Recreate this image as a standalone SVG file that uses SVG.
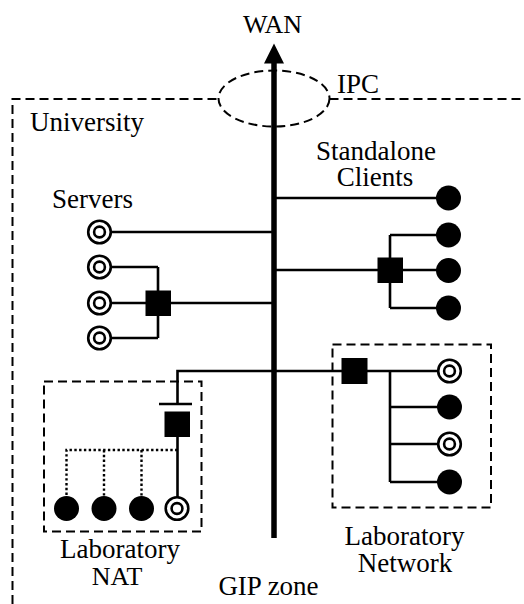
<svg xmlns="http://www.w3.org/2000/svg" width="524" height="604" viewBox="0 0 524 604">
<defs>
<style>
.dash{fill:none;stroke:#000;stroke-width:2;stroke-dasharray:9 5}
.ln{fill:none;stroke:#000;stroke-width:2.6}
.dot{fill:none;stroke:#000;stroke-width:2.4;stroke-dasharray:2.4 2.4}
.trunk{fill:none;stroke:#000;stroke-width:5.5}
.sw{fill:#000}
.cl{fill:#000}
.srvo{fill:#fff;stroke:#000;stroke-width:2.6}
.t{font-family:'Liberation Serif','Times New Roman',serif;font-size:26px;fill:#000;text-anchor:middle}
.w{font-size:27px}
</style>
<g id="server-tpl"><circle r="11.3" class="srvo"/><circle r="5.4" class="srvo"/></g>
</defs>
<rect width="524" height="604" fill="#fff"/>
<g id="university">
<path class="dash" d="M12.5,604 V99 H218.5 M329.5,99 H524"/>
<text class="t w" x="87" y="131">University</text>
</g>
<g id="ipc">
<ellipse cx="274" cy="98.5" rx="55.5" ry="28" style="fill:#fff;stroke:#000;stroke-width:2;stroke-dasharray:9 5"/>
<text class="t w" x="358" y="93.3">IPC</text>
</g>
<g id="lab-nat-box">
<rect class="dash" x="44" y="381.5" width="157.5" height="150"/>
<text class="t w" x="120" y="558">Laboratory</text>
<text class="t" x="117" y="585">NAT</text>
</g>
<g id="lab-net-box">
<rect class="dash" x="332.5" y="344.5" width="158.5" height="163"/>
<text class="t w" x="404.5" y="545">Laboratory</text>
<text class="t w" x="405" y="572">Network</text>
</g>
<g id="connectors">
<path class="ln" d="M274,198 H448"/>
<path class="ln" d="M274,270 H390 M390,235 V308 M390,235 H448 M390,270 H448 M390,308 H448"/>
<path class="ln" d="M111,232 H274"/>
<path class="ln" d="M158,303 H274 M158,267 V338 M99,267 H158 M99,303 H158 M99,338 H158"/>
<path class="ln" d="M177.5,404 V371 H449 M390,371 V482 M390,407 H448 M390,444 H449 M390,482 H448"/>
<path class="ln" d="M159,404 H192"/>
<path class="ln" d="M177.5,424 V508"/>
<path class="dot" d="M177.5,450 H66.5 V508 M104,450 V508 M141.5,450 V508"/>
<path class="trunk" d="M274,538 V60"/>
<path d="M274,43.5 L264,63.5 L284,63.5 Z" fill="#000"/>
</g>
<g id="wan"><text class="t" x="272.5" y="33.3">WAN</text></g>
<g id="standalone-label">
<text class="t w" x="376" y="160">Standalone</text>
<text class="t w" x="375" y="186">Clients</text>
</g>
<g id="servers-label"><text class="t w" x="92.5" y="208">Servers</text></g>
<g id="client-1"><circle class="cl" cx="448.5" cy="198" r="12.5"/></g>
<g id="client-2"><circle class="cl" cx="448.5" cy="235" r="12.5"/></g>
<g id="client-3"><circle class="cl" cx="448.5" cy="270.5" r="12.5"/></g>
<g id="client-4"><circle class="cl" cx="448.5" cy="308" r="12.5"/></g>
<g id="switch-clients"><rect class="sw" x="377.5" y="257.5" width="25.5" height="25.5"/></g>
<g id="server-1"><use href="#server-tpl" x="99.5" y="232"/></g>
<g id="server-2"><use href="#server-tpl" x="99.5" y="267"/></g>
<g id="server-3"><use href="#server-tpl" x="99.5" y="303"/></g>
<g id="server-4"><use href="#server-tpl" x="99.5" y="338"/></g>
<g id="switch-servers"><rect class="sw" x="145.5" y="290.5" width="25.5" height="25.5"/></g>
<g id="switch-labnet"><rect class="sw" x="341.5" y="358" width="26" height="26"/></g>
<g id="labnet-1"><use href="#server-tpl" x="449.5" y="371"/></g>
<g id="labnet-2"><circle class="cl" cx="449.5" cy="407" r="12.5"/></g>
<g id="labnet-3"><use href="#server-tpl" x="449.5" y="444"/></g>
<g id="labnet-4"><circle class="cl" cx="449.5" cy="482" r="12.5"/></g>
<g id="switch-nat"><rect class="sw" x="164.5" y="411.5" width="25.5" height="25.5"/></g>
<g id="nat-1"><circle class="cl" cx="66.5" cy="508.5" r="12.5"/></g>
<g id="nat-2"><circle class="cl" cx="104" cy="508.5" r="12.5"/></g>
<g id="nat-3"><circle class="cl" cx="141.5" cy="508.5" r="12.5"/></g>
<g id="nat-4"><use href="#server-tpl" x="177" y="508.5"/></g>
<g id="gip"><text class="t w" x="268.5" y="595">GIP zone</text></g>
</svg>
